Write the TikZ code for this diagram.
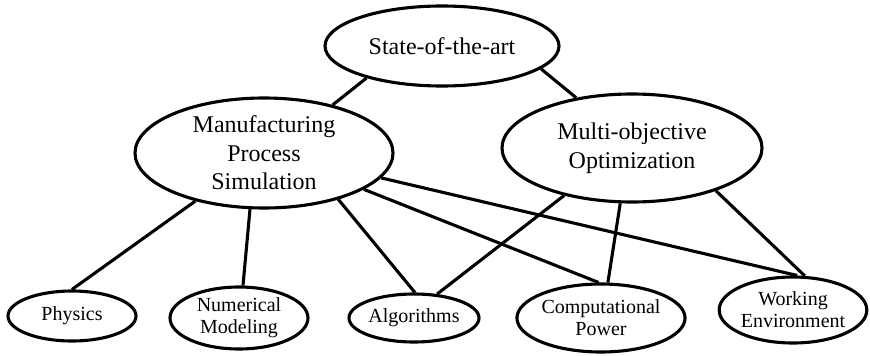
\documentclass[tikz,border=0pt]{standalone}
\usepackage{fontspec}
\setmainfont{Liberation Serif}
\usetikzlibrary{shapes.geometric}
\begin{document}
\begin{tikzpicture}[x=1pt,y=-1pt,
  topic/.style={ellipse,draw,line width=3.1pt,inner sep=0pt,align=center},
  big/.style={topic,font=\fontsize{24}{28.5}\selectfont},
  small/.style={topic,font=\fontsize{20}{22}\selectfont},
  link/.style={line width=3.1pt}]
\useasboundingbox (0,0) rectangle (870,356);
% upper level
\node[big,minimum width=234pt,minimum height=80pt] (sota) at (442,46) {State-of-the-art};
\node[big,minimum width=258pt,minimum height=110pt] (mps) at (264,153) {Manufacturing\\Process\\Simulation};
\node[big,minimum width=260pt,minimum height=108pt] (moo) at (632,148) {Multi-objective\\Optimization};
% lower level
\node[small,minimum width=128pt,minimum height=50pt] (phy) at (72,316) {Physics};
\node[small,minimum width=138pt,minimum height=62pt] (num) at (239,318) {Numerical\\Modeling};
\node[small,minimum width=130pt,minimum height=48pt] (alg) at (414,318) {Algorithms};
\node[small,minimum width=152pt,minimum height=68pt] (cpw) at (601,318) {Computational\\Power};
\node[small,minimum width=146pt,minimum height=66pt] (wenv) at (793,310) {Working\\Environment};
% connections
\draw[link] (sota.203.3) -- (mps.35.9);
\draw[link] (sota.-13.1) -- (moo.138.2);
\draw[link] (mps.215.3) -- (phy.90);
\draw[link] (mps.256.9) -- (num.83);
\draw[link] (mps.-32.3) -- (alg.88);
\draw[link] (mps.-20.6) -- (cpw.94.5);
\draw[link] (mps.-12.1) -- (wenv.83.5);
\draw[link] (moo.215.5) -- (alg.46);
\draw[link] (moo.258.5) -- (cpw.79);
\draw[link] (moo.-27.1) -- (wenv.71);
\end{tikzpicture}
\end{document}
